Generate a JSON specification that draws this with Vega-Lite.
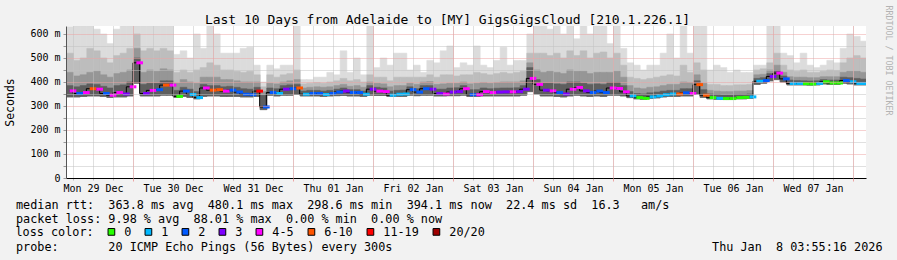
{
"$schema": "https://vega.github.io/schema/vega-lite/v6.json",
"width": 800, "height": 152,
"autosize": {"type": "none"},
"padding": {"left": 66, "top": 26, "right": 31, "bottom": 82},
"background": "#f2f2f2",
"config": {"view": {"fill": "white", "stroke": null}, "font": "DejaVu Sans Mono"},
"title": {"text": "Last 10 Days from Adelaide to [MY] GigsGigsCloud [210.1.226.1]", "font": "DejaVu Sans Mono", "fontSize": 13, "fontWeight": "normal", "color": "black", "anchor": "middle", "frame": "group", "dx": -18.5, "dy": 37, "offset": 5, "baseline": "alphabetic"},
"data": {"values": [
{"t":"2025-12-29T04:00:00Z","med":363,"loss":"4-5","lo":338,"a":385,"b":440,"c":520,"hi":630},
{"t":"2025-12-29T06:00:00Z","med":352,"loss":"2","lo":338,"a":380,"b":425,"c":490,"hi":635},
{"t":"2025-12-29T08:00:00Z","med":356,"loss":"4-5","lo":340,"a":385,"b":430,"c":500,"hi":635},
{"t":"2025-12-29T10:00:00Z","med":372,"loss":"6-10","lo":342,"a":392,"b":440,"c":540,"hi":635},
{"t":"2025-12-29T12:00:00Z","med":370,"loss":"4-5","lo":342,"a":390,"b":445,"c":530,"hi":620},
{"t":"2025-12-29T14:00:00Z","med":352,"loss":"2","lo":340,"a":382,"b":430,"c":500,"hi":600},
{"t":"2025-12-29T16:00:00Z","med":345,"loss":"4-5","lo":336,"a":375,"b":420,"c":480,"hi":560},
{"t":"2025-12-29T18:00:00Z","med":356,"loss":"4-5","lo":338,"a":385,"b":435,"c":510,"hi":620},
{"t":"2025-12-29T20:00:00Z","med":350,"loss":"3","lo":338,"a":388,"b":440,"c":520,"hi":635},
{"t":"2025-12-29T22:00:00Z","med":380,"loss":"4-5","lo":342,"a":400,"b":450,"c":540,"hi":635},
{"t":"2025-12-30T00:00:00Z","med":480,"loss":"4-5","lo":395,"a":500,"b":540,"c":600,"hi":635},
{"t":"2025-12-30T02:00:00Z","med":352,"loss":"3","lo":342,"a":390,"b":440,"c":530,"hi":635},
{"t":"2025-12-30T04:00:00Z","med":365,"loss":"4-5","lo":342,"a":395,"b":450,"c":540,"hi":635},
{"t":"2025-12-30T06:00:00Z","med":368,"loss":"2","lo":342,"a":395,"b":445,"c":530,"hi":635},
{"t":"2025-12-30T08:00:00Z","med":387,"loss":"6-10","lo":345,"a":405,"b":455,"c":540,"hi":635},
{"t":"2025-12-30T10:00:00Z","med":387,"loss":"4-5","lo":345,"a":405,"b":450,"c":530,"hi":635},
{"t":"2025-12-30T12:00:00Z","med":340,"loss":"0","lo":336,"a":365,"b":395,"c":440,"hi":515},
{"t":"2025-12-30T14:00:00Z","med":362,"loss":"2","lo":340,"a":378,"b":410,"c":450,"hi":530},
{"t":"2025-12-30T16:00:00Z","med":348,"loss":"1","lo":336,"a":370,"b":400,"c":440,"hi":500},
{"t":"2025-12-30T18:00:00Z","med":335,"loss":"1","lo":330,"a":360,"b":395,"c":450,"hi":600},
{"t":"2025-12-30T20:00:00Z","med":375,"loss":"4-5","lo":340,"a":390,"b":420,"c":460,"hi":540},
{"t":"2025-12-30T22:00:00Z","med":366,"loss":"6-10","lo":342,"a":385,"b":420,"c":480,"hi":635},
{"t":"2025-12-31T00:00:00Z","med":368,"loss":"6-10","lo":342,"a":385,"b":420,"c":470,"hi":600},
{"t":"2025-12-31T02:00:00Z","med":362,"loss":"4-5","lo":340,"a":380,"b":410,"c":450,"hi":520},
{"t":"2025-12-31T04:00:00Z","med":366,"loss":"2","lo":340,"a":382,"b":410,"c":450,"hi":520},
{"t":"2025-12-31T06:00:00Z","med":358,"loss":"2","lo":340,"a":378,"b":405,"c":445,"hi":520},
{"t":"2025-12-31T08:00:00Z","med":349,"loss":"2","lo":338,"a":372,"b":400,"c":440,"hi":540},
{"t":"2025-12-31T10:00:00Z","med":347,"loss":"2","lo":338,"a":370,"b":400,"c":445,"hi":545},
{"t":"2025-12-31T12:00:00Z","med":362,"loss":"11-19","lo":340,"a":378,"b":400,"c":430,"hi":470},
{"t":"2025-12-31T14:00:00Z","med":296,"loss":"2","lo":285,"a":345,"b":360,"c":380,"hi":400},
{"t":"2025-12-31T16:00:00Z","med":356,"loss":"2","lo":345,"a":375,"b":395,"c":430,"hi":470},
{"t":"2025-12-31T18:00:00Z","med":352,"loss":"1","lo":342,"a":372,"b":392,"c":420,"hi":455},
{"t":"2025-12-31T20:00:00Z","med":370,"loss":"3","lo":345,"a":385,"b":400,"c":430,"hi":470},
{"t":"2025-12-31T22:00:00Z","med":372,"loss":"2","lo":345,"a":388,"b":405,"c":435,"hi":470},
{"t":"2026-01-01T00:00:00Z","med":375,"loss":"6-10","lo":348,"a":390,"b":410,"c":450,"hi":635},
{"t":"2026-01-01T02:00:00Z","med":349,"loss":"1","lo":342,"a":362,"b":375,"c":392,"hi":410},
{"t":"2026-01-01T04:00:00Z","med":352,"loss":"2","lo":342,"a":365,"b":378,"c":395,"hi":410},
{"t":"2026-01-01T06:00:00Z","med":352,"loss":"2","lo":342,"a":365,"b":380,"c":398,"hi":420},
{"t":"2026-01-01T08:00:00Z","med":348,"loss":"1","lo":340,"a":362,"b":378,"c":395,"hi":420},
{"t":"2026-01-01T10:00:00Z","med":352,"loss":"2","lo":342,"a":365,"b":380,"c":400,"hi":440},
{"t":"2026-01-01T12:00:00Z","med":358,"loss":"2","lo":343,"a":370,"b":385,"c":405,"hi":430},
{"t":"2026-01-01T14:00:00Z","med":362,"loss":"3","lo":344,"a":375,"b":390,"c":415,"hi":530},
{"t":"2026-01-01T16:00:00Z","med":356,"loss":"2","lo":342,"a":368,"b":382,"c":405,"hi":440},
{"t":"2026-01-01T18:00:00Z","med":356,"loss":"2","lo":342,"a":368,"b":385,"c":410,"hi":500},
{"t":"2026-01-01T20:00:00Z","med":349,"loss":"1","lo":340,"a":362,"b":378,"c":400,"hi":430},
{"t":"2026-01-01T22:00:00Z","med":370,"loss":"3","lo":345,"a":385,"b":400,"c":430,"hi":635},
{"t":"2026-01-02T00:00:00Z","med":362,"loss":"4-5","lo":344,"a":378,"b":395,"c":420,"hi":460},
{"t":"2026-01-02T02:00:00Z","med":360,"loss":"4-5","lo":344,"a":375,"b":392,"c":420,"hi":500},
{"t":"2026-01-02T04:00:00Z","med":345,"loss":"1","lo":340,"a":362,"b":380,"c":405,"hi":470},
{"t":"2026-01-02T06:00:00Z","med":349,"loss":"1","lo":340,"a":365,"b":385,"c":420,"hi":520},
{"t":"2026-01-02T08:00:00Z","med":350,"loss":"1","lo":340,"a":366,"b":385,"c":420,"hi":520},
{"t":"2026-01-02T10:00:00Z","med":368,"loss":"2","lo":345,"a":380,"b":395,"c":420,"hi":450},
{"t":"2026-01-02T12:00:00Z","med":358,"loss":"2","lo":343,"a":372,"b":390,"c":420,"hi":470},
{"t":"2026-01-02T14:00:00Z","med":372,"loss":"2","lo":345,"a":385,"b":400,"c":420,"hi":440},
{"t":"2026-01-02T16:00:00Z","med":370,"loss":"3","lo":345,"a":385,"b":402,"c":430,"hi":490},
{"t":"2026-01-02T18:00:00Z","med":352,"loss":"3","lo":342,"a":370,"b":390,"c":420,"hi":480},
{"t":"2026-01-02T20:00:00Z","med":350,"loss":"4-5","lo":342,"a":370,"b":392,"c":430,"hi":530},
{"t":"2026-01-02T22:00:00Z","med":358,"loss":"3","lo":343,"a":375,"b":395,"c":430,"hi":550},
{"t":"2026-01-03T00:00:00Z","med":360,"loss":"3","lo":343,"a":376,"b":395,"c":425,"hi":460},
{"t":"2026-01-03T02:00:00Z","med":372,"loss":"4-5","lo":345,"a":385,"b":400,"c":430,"hi":480},
{"t":"2026-01-03T04:00:00Z","med":347,"loss":"2","lo":340,"a":368,"b":392,"c":430,"hi":470},
{"t":"2026-01-03T06:00:00Z","med":347,"loss":"4-5","lo":340,"a":368,"b":395,"c":440,"hi":550},
{"t":"2026-01-03T08:00:00Z","med":360,"loss":"4-5","lo":342,"a":375,"b":398,"c":435,"hi":470},
{"t":"2026-01-03T10:00:00Z","med":356,"loss":"4-5","lo":342,"a":372,"b":395,"c":430,"hi":460},
{"t":"2026-01-03T12:00:00Z","med":358,"loss":"3","lo":342,"a":374,"b":398,"c":435,"hi":490},
{"t":"2026-01-03T14:00:00Z","med":359,"loss":"3","lo":342,"a":375,"b":400,"c":440,"hi":545},
{"t":"2026-01-03T16:00:00Z","med":359,"loss":"4-5","lo":342,"a":375,"b":400,"c":435,"hi":470},
{"t":"2026-01-03T18:00:00Z","med":360,"loss":"3","lo":342,"a":376,"b":400,"c":440,"hi":490},
{"t":"2026-01-03T20:00:00Z","med":370,"loss":"3","lo":345,"a":385,"b":405,"c":445,"hi":490},
{"t":"2026-01-03T22:00:00Z","med":415,"loss":"4-5","lo":360,"a":460,"b":480,"c":520,"hi":600},
{"t":"2026-01-04T00:00:00Z","med":390,"loss":"4-5","lo":350,"a":410,"b":450,"c":520,"hi":635},
{"t":"2026-01-04T02:00:00Z","med":366,"loss":"3","lo":342,"a":395,"b":440,"c":520,"hi":635},
{"t":"2026-01-04T04:00:00Z","med":363,"loss":"4-5","lo":342,"a":395,"b":445,"c":510,"hi":620},
{"t":"2026-01-04T06:00:00Z","med":356,"loss":"2","lo":340,"a":392,"b":440,"c":520,"hi":635},
{"t":"2026-01-04T08:00:00Z","med":350,"loss":"3","lo":338,"a":390,"b":435,"c":500,"hi":600},
{"t":"2026-01-04T10:00:00Z","med":370,"loss":"4-5","lo":342,"a":400,"b":450,"c":530,"hi":635},
{"t":"2026-01-04T12:00:00Z","med":377,"loss":"4-5","lo":345,"a":400,"b":445,"c":510,"hi":580},
{"t":"2026-01-04T14:00:00Z","med":363,"loss":"3","lo":342,"a":395,"b":445,"c":530,"hi":635},
{"t":"2026-01-04T16:00:00Z","med":356,"loss":"2","lo":340,"a":390,"b":435,"c":500,"hi":600},
{"t":"2026-01-04T18:00:00Z","med":362,"loss":"2","lo":342,"a":392,"b":440,"c":520,"hi":635},
{"t":"2026-01-04T20:00:00Z","med":356,"loss":"2","lo":340,"a":390,"b":440,"c":525,"hi":635},
{"t":"2026-01-04T22:00:00Z","med":375,"loss":"4-5","lo":345,"a":398,"b":440,"c":500,"hi":560},
{"t":"2026-01-05T00:00:00Z","med":373,"loss":"4-5","lo":345,"a":398,"b":445,"c":520,"hi":635},
{"t":"2026-01-05T02:00:00Z","med":359,"loss":"4-5","lo":342,"a":385,"b":420,"c":470,"hi":540},
{"t":"2026-01-05T04:00:00Z","med":342,"loss":"1","lo":335,"a":360,"b":385,"c":420,"hi":480},
{"t":"2026-01-05T06:00:00Z","med":335,"loss":"0","lo":330,"a":352,"b":375,"c":415,"hi":470},
{"t":"2026-01-05T08:00:00Z","med":332,"loss":"0","lo":328,"a":350,"b":372,"c":410,"hi":450},
{"t":"2026-01-05T10:00:00Z","med":338,"loss":"1","lo":332,"a":355,"b":378,"c":415,"hi":470},
{"t":"2026-01-05T12:00:00Z","med":342,"loss":"1","lo":334,"a":358,"b":380,"c":420,"hi":470},
{"t":"2026-01-05T14:00:00Z","med":347,"loss":"1","lo":338,"a":362,"b":385,"c":425,"hi":520},
{"t":"2026-01-05T16:00:00Z","med":350,"loss":"1","lo":340,"a":365,"b":390,"c":430,"hi":600},
{"t":"2026-01-05T18:00:00Z","med":350,"loss":"6-10","lo":340,"a":365,"b":390,"c":425,"hi":500},
{"t":"2026-01-05T20:00:00Z","med":355,"loss":"2","lo":342,"a":372,"b":400,"c":470,"hi":635},
{"t":"2026-01-05T22:00:00Z","med":352,"loss":"4-5","lo":342,"a":372,"b":398,"c":440,"hi":520},
{"t":"2026-01-06T00:00:00Z","med":389,"loss":"6-10","lo":350,"a":405,"b":430,"c":480,"hi":635},
{"t":"2026-01-06T02:00:00Z","med":345,"loss":"6-10","lo":336,"a":368,"b":395,"c":450,"hi":635},
{"t":"2026-01-06T04:00:00Z","med":335,"loss":"0","lo":330,"a":350,"b":365,"c":390,"hi":450},
{"t":"2026-01-06T06:00:00Z","med":332,"loss":"1","lo":328,"a":348,"b":362,"c":390,"hi":470},
{"t":"2026-01-06T08:00:00Z","med":331,"loss":"0","lo":327,"a":346,"b":360,"c":385,"hi":460},
{"t":"2026-01-06T10:00:00Z","med":331,"loss":"0","lo":327,"a":346,"b":360,"c":385,"hi":440},
{"t":"2026-01-06T12:00:00Z","med":335,"loss":"0","lo":330,"a":348,"b":362,"c":388,"hi":450},
{"t":"2026-01-06T14:00:00Z","med":336,"loss":"0","lo":330,"a":348,"b":362,"c":388,"hi":440},
{"t":"2026-01-06T16:00:00Z","med":338,"loss":"1","lo":332,"a":350,"b":364,"c":390,"hi":440},
{"t":"2026-01-06T18:00:00Z","med":403,"loss":"1","lo":390,"a":415,"b":430,"c":450,"hi":470},
{"t":"2026-01-06T20:00:00Z","med":406,"loss":"2","lo":395,"a":418,"b":432,"c":455,"hi":470},
{"t":"2026-01-06T22:00:00Z","med":423,"loss":"3","lo":405,"a":435,"b":450,"c":480,"hi":635},
{"t":"2026-01-07T00:00:00Z","med":437,"loss":"4-5","lo":410,"a":448,"b":470,"c":520,"hi":635},
{"t":"2026-01-07T02:00:00Z","med":413,"loss":"2","lo":400,"a":425,"b":440,"c":470,"hi":520},
{"t":"2026-01-07T04:00:00Z","med":394,"loss":"1","lo":388,"a":408,"b":422,"c":450,"hi":510},
{"t":"2026-01-07T06:00:00Z","med":394,"loss":"1","lo":388,"a":406,"b":420,"c":445,"hi":480},
{"t":"2026-01-07T08:00:00Z","med":393,"loss":"0","lo":388,"a":405,"b":420,"c":450,"hi":520},
{"t":"2026-01-07T10:00:00Z","med":392,"loss":"0","lo":387,"a":404,"b":418,"c":440,"hi":470},
{"t":"2026-01-07T12:00:00Z","med":394,"loss":"1","lo":388,"a":405,"b":418,"c":440,"hi":460},
{"t":"2026-01-07T14:00:00Z","med":401,"loss":"0","lo":392,"a":410,"b":422,"c":445,"hi":470},
{"t":"2026-01-07T16:00:00Z","med":396,"loss":"0","lo":390,"a":408,"b":422,"c":450,"hi":490},
{"t":"2026-01-07T18:00:00Z","med":396,"loss":"0","lo":390,"a":408,"b":422,"c":448,"hi":480},
{"t":"2026-01-07T20:00:00Z","med":406,"loss":"2","lo":395,"a":420,"b":440,"c":480,"hi":540},
{"t":"2026-01-07T22:00:00Z","med":401,"loss":"1","lo":392,"a":418,"b":445,"c":500,"hi":600},
{"t":"2026-01-08T00:00:00Z","med":394,"loss":"1","lo":388,"a":415,"b":445,"c":510,"hi":590},
{"t":"2026-01-08T02:00:00Z","med":394,"loss":"1","lo":388,"a":412,"b":440,"c":500,"hi":570}
]},
"layer": [
 {"layer": [
  {"mark": {"type": "rect", "color": "#dcdcdc", "stroke": "#dcdcdc", "strokeWidth": 0.6, "clip": true},
   "encoding": {
    "x": {"field": "t", "type": "temporal", "timeUnit": {"unit": "utcyearmonthdatehours", "step": 2},
      "scale": {"domain": [{"year": 2025, "month": 12, "date": 29, "hours": 3, "minutes": 54, "utc": true}, {"year": 2026, "month": 1, "date": 8, "hours": 3, "minutes": 54, "utc": true}]},
      "axis": {"orient": "bottom", "zindex": 1, "tickCount": 40, "grid": true,
        "gridColor": "#c0c0c0", "gridDash": [1, 1], "gridWidth": 1,
        "domainColor": "black", "domainWidth": 1,
        "ticks": true, "tickSize": 2, "tickColor": "#bbbbbb",
        "labelExpr": "utchours(datum.value) === 12 ? utcFormat(datum.value, '%a %d %b') : ''",
        "labelOverlap": false, "labelFlush": false, "labelBound": false,
        "labelFont": "DejaVu Sans Mono", "labelFontSize": 10, "labelColor": "black", "labelPadding": 3,
        "title": ["median\u00a0rtt:\u00a0\u00a0363.8\u00a0ms\u00a0avg\u00a0\u00a0480.1\u00a0ms\u00a0max\u00a0\u00a0298.6\u00a0ms\u00a0min\u00a0\u00a0394.1\u00a0ms\u00a0now\u00a0\u00a022.4\u00a0ms\u00a0sd\u00a0\u00a016.3\u00a0\u00a0\u00a0am/s",
                  "packet\u00a0loss:\u00a09.98\u00a0%\u00a0avg\u00a0\u00a088.01\u00a0%\u00a0max\u00a0\u00a00.00\u00a0%\u00a0min\u00a0\u00a00.00\u00a0%\u00a0now"],
        "titleFont": "DejaVu Sans Mono", "titleFontSize": 11.8, "titleFontWeight": "normal", "titleColor": "black",
        "titleAnchor": "start", "titleAlign": "left", "titleBaseline": "alphabetic", "titleLineHeight": 14.1,
        "titleX": -50.5, "titleY": 30, "titleAngle": 0}},
    "y": {"field": "lo", "type": "quantitative", "scale": {"domain": [0, 633.333], "nice": false},
      "axis": {"orient": "left", "zindex": 1, "values": [0, 50, 100, 150, 200, 250, 300, 350, 400, 450, 500, 550, 600], "tickCount": 13, "grid": true,
        "gridColor": {"condition": {"test": "datum.value % 100 === 0", "value": "#eda3a3"}, "value": "#c0c0c0"},
        "gridDash": [1, 1], "gridWidth": 1, "domainColor": "#555555", "tickSize": 3, "tickColor": "#999999",
        "labelExpr": "datum.value === 0 ? '0' : (datum.value % 100 === 0 ? datum.value + ' m' : '')",
        "labelOverlap": false, "labelBound": false,
        "labelFont": "DejaVu Sans Mono", "labelFontSize": 10, "labelColor": "black", "labelPadding": 3,
        "title": "Seconds", "titleFont": "DejaVu Sans Mono", "titleFontSize": 11.5, "titleFontWeight": "normal", "titleColor": "black",
        "titleX": -55.5, "titleY": 76, "titleAngle": 270, "titleAlign": "center", "titleBaseline": "middle"}},
    "y2": {"field": "hi"}}},
  {"mark": {"type": "rect", "color": "#bdbdbd", "stroke": "#bdbdbd", "strokeWidth": 0.6, "clip": true},
   "encoding": {"x": {"field": "t", "type": "temporal", "timeUnit": {"unit": "utcyearmonthdatehours", "step": 2}},
    "y": {"field": "lo", "type": "quantitative"}, "y2": {"field": "c"}}},
  {"mark": {"type": "rect", "color": "#969696", "stroke": "#969696", "strokeWidth": 0.6, "clip": true},
   "encoding": {"x": {"field": "t", "type": "temporal", "timeUnit": {"unit": "utcyearmonthdatehours", "step": 2}},
    "y": {"field": "lo", "type": "quantitative"}, "y2": {"field": "b"}}},
  {"mark": {"type": "rect", "color": "#5e5e5e", "stroke": "#5e5e5e", "strokeWidth": 0.6, "clip": true},
   "encoding": {"x": {"field": "t", "type": "temporal", "timeUnit": {"unit": "utcyearmonthdatehours", "step": 2}},
    "y": {"field": "lo", "type": "quantitative"}, "y2": {"field": "a"}}},
  {"mark": {"type": "line", "interpolate": "step", "color": "black", "strokeWidth": 1, "clip": true, "xOffset": 3.333},
   "encoding": {"x": {"field": "t", "type": "temporal", "timeUnit": {"unit": "utcyearmonthdatehours", "step": 2}},
    "y": {"field": "med", "type": "quantitative"}}}
 ]},
 {"mark": {"type": "tick", "orient": "horizontal", "thickness": 3, "size": 6.7, "opacity": 1, "clip": true, "xOffset": 3.333},
  "encoding": {
   "x": {"field": "t", "type": "temporal", "timeUnit": {"unit": "utcyearmonthdatehours", "step": 2},
     "axis": {"orient": "bottom", "zindex": 2, "tickCount": 10, "grid": true,
        "gridColor": "#eda3a3", "gridDash": [1, 1], "gridWidth": 1,
        "domain": false, "ticks": true, "tickSize": 3, "tickColor": "#eda3a3", "labels": false,
        "title": "probe:\u00a0\u00a0\u00a0\u00a0\u00a0\u00a0\u00a020\u00a0ICMP\u00a0Echo\u00a0Pings\u00a0(56\u00a0Bytes)\u00a0every\u00a0300s\u00a0\u00a0\u00a0\u00a0\u00a0\u00a0\u00a0\u00a0\u00a0\u00a0\u00a0\u00a0\u00a0\u00a0\u00a0\u00a0\u00a0\u00a0\u00a0\u00a0\u00a0\u00a0\u00a0\u00a0\u00a0\u00a0\u00a0\u00a0\u00a0\u00a0\u00a0\u00a0\u00a0\u00a0\u00a0\u00a0\u00a0\u00a0\u00a0\u00a0\u00a0\u00a0\u00a0\u00a0\u00a0Thu\u00a0Jan\u00a0\u00a08\u00a003:55:16\u00a02026",
        "titleFont": "DejaVu Sans Mono", "titleFontSize": 11.8, "titleFontWeight": "normal", "titleColor": "black",
        "titleAnchor": "start", "titleAlign": "left", "titleBaseline": "alphabetic",
        "titleX": -50.5, "titleY": 72.5, "titleAngle": 0}},
   "y": {"field": "med", "type": "quantitative",
     "axis": {"orient": "right", "domain": false, "ticks": false, "labels": false, "grid": false,
       "title": "RRDTOOL / TOBI OETIKER", "titleFont": "DejaVu Sans Mono", "titleFontSize": 8.3, "titleFontWeight": "normal", "titleColor": "#b3b3b3",
       "titleAngle": 90, "titleX": 21, "titleY": 34, "titleAlign": "center", "titleBaseline": "middle"}},
   "color": {"field": "loss", "type": "nominal",
     "scale": {"domain": ["0", "1", "2", "3", "4-5", "6-10", "11-19", "20/20"], "range": ["#26ff00", "#00b8ff", "#0059ff", "#7e00ff", "#ff00ff", "#ff5500", "#ff0000", "#a00000"]},
     "legend": {"orient": "none", "legendX": -50.5, "legendY": 200, "direction": "horizontal", "title": "loss color:", "titleOrient": "left",
       "titleFont": "DejaVu Sans Mono", "titleFontSize": 11.8, "titleFontWeight": "normal", "titleColor": "black", "titlePadding": 11,
       "labelFont": "DejaVu Sans Mono", "labelFontSize": 11.8, "labelColor": "black", "labelOffset": 7, "columnPadding": 11, "padding": 0,
       "gridAlign": "none",
       "symbolType": "square", "symbolSize": 45, "symbolStrokeColor": "black", "symbolStrokeWidth": 1, "symbolOpacity": 1}}}}
],
"resolve": {"axis": {"x": "independent", "y": "independent"}}
}
